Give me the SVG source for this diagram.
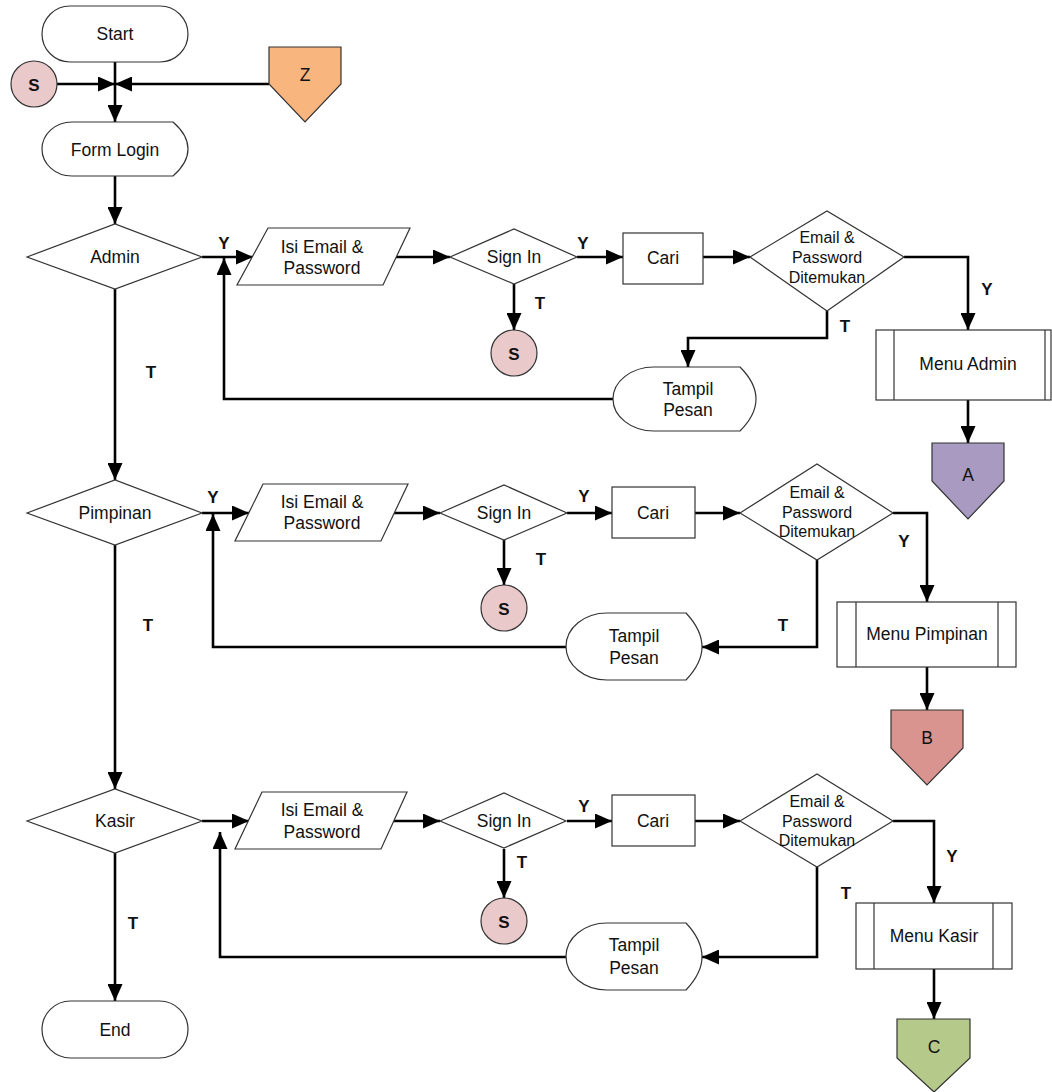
<svg xmlns="http://www.w3.org/2000/svg" width="1052" height="1092" viewBox="0 0 1052 1092">
<style>
.sh{fill:#fff;stroke:#333;stroke-width:1.2}
.t{font-family:"Liberation Sans",Arial,sans-serif;font-size:17.5px;fill:#111;text-anchor:middle;dominant-baseline:central}
.ts{font-family:"Liberation Sans",Arial,sans-serif;font-size:16px;fill:#111;text-anchor:middle;dominant-baseline:central}
.lb{font-family:"Liberation Sans",Arial,sans-serif;font-size:17px;font-weight:bold;fill:#111;text-anchor:middle;dominant-baseline:central}
.c{fill:none;stroke:#000;stroke-width:2.6;marker-end:url(#ah)}
.cn{fill:none;stroke:#000;stroke-width:2.6}
</style>
<defs>
<marker id="ah" markerWidth="17" markerHeight="15" refX="17" refY="7.5" orient="auto" markerUnits="userSpaceOnUse">
<path d="M0,0 L17,7.5 L0,15 z" fill="#000"/>
</marker>
</defs>
<rect width="1052" height="1092" fill="#fff"/>

<g id="connectors">
<path class="c" d="M115,62 V122"/>
<path class="c" d="M57,84 H115"/>
<path class="c" d="M269,84 H115"/>
<path class="c" d="M115,176 V224"/>
<path class="c" d="M202,257 H253"/>
<path class="c" d="M396,257 H450"/>
<path class="c" d="M577,257 H623"/>
<path class="c" d="M703,257 H750"/>
<path class="c" d="M904,257 H968 V330"/>
<path class="c" d="M827,311 V338 H688 V367"/>
<path class="c" d="M514,284 V330"/>
<path class="c" d="M613,399 H224 V258"/>
<path class="c" d="M968,400 V443"/>
<path class="c" d="M115,289 V480"/>

<path class="c" d="M202,513 H249"/>
<path class="c" d="M394,513 H440"/>
<path class="c" d="M567,513 H612"/>
<path class="c" d="M695,513 H740"/>
<path class="c" d="M893,513 H927 V602"/>
<path class="c" d="M817,560 V647 H702"/>
<path class="c" d="M504,540 V585"/>
<path class="c" d="M566,647 H213 V514"/>
<path class="c" d="M927,667 V710"/>
<path class="c" d="M115,545 V789"/>

<path class="c" d="M202,821 H249"/>
<path class="c" d="M394,821 H440"/>
<path class="c" d="M567,821 H612"/>
<path class="c" d="M695,821 H740"/>
<path class="c" d="M893,821 H934 V903"/>
<path class="c" d="M817,867 V957 H702"/>
<path class="c" d="M504,849 V898"/>
<path class="c" d="M566,957 H220 V832"/>
<path class="c" d="M934,969 V1019"/>
<path class="c" d="M115,853 V1001"/>
</g>

<g id="labels">
<text class="lb" x="224" y="243">Y</text>
<text class="lb" x="583" y="243">Y</text>
<text class="lb" x="540" y="303">T</text>
<text class="lb" x="845" y="326">T</text>
<text class="lb" x="987" y="289">Y</text>
<text class="lb" x="151" y="372">T</text>

<text class="lb" x="213" y="497">Y</text>
<text class="lb" x="584" y="496">Y</text>
<text class="lb" x="541" y="559">T</text>
<text class="lb" x="904" y="541">Y</text>
<text class="lb" x="783" y="625">T</text>
<text class="lb" x="148" y="625">T</text>

<text class="lb" x="584" y="806">Y</text>
<text class="lb" x="522" y="862">T</text>
<text class="lb" x="952" y="856">Y</text>
<text class="lb" x="846" y="893">T</text>
<text class="lb" x="133" y="923">T</text>
</g>

<g id="start"><rect class="sh" x="42" y="6" width="146" height="56" rx="28"/><text class="t" x="115" y="34">Start</text></g>
<g id="s-top"><circle class="sh" cx="34" cy="84" r="23" fill="#e9c9c9" style="fill:#e9c9c9"/><text class="lb" x="34" y="85">S</text></g>
<g id="z"><path class="sh" style="fill:#f8b57e" d="M269,47 H341 V84 L305,122 L269,84 Z"/><text class="t" x="305" y="75">Z</text></g>
<g id="form-login"><path class="sh" d="M72,122 H173 Q188,135 188,149 Q188,163 173,176 H72 A30,27 0 0 1 72,122 Z"/><text class="t" x="115" y="150">Form Login</text></g>

<g id="admin"><path class="sh" d="M27,257 L115,224 L202,257 L115,289 Z"/><text class="t" x="115" y="257">Admin</text></g>
<g id="isi1"><path class="sh" d="M268,228 H410 L383,285 H237 Z"/><text class="t" x="322" y="247">Isi Email &amp;</text><text class="t" x="322" y="268">Password</text></g>
<g id="signin1"><path class="sh" d="M450,257 L514,229 L577,257 L514,284 Z"/><text class="t" x="514" y="257">Sign In</text></g>
<g id="cari1"><rect class="sh" x="623" y="233" width="80" height="51"/><text class="t" x="663" y="258">Cari</text></g>
<g id="found1"><path class="sh" d="M750,257 L827,211 L904,257 L827,311 Z"/><text class="ts" x="827" y="237">Email &amp;</text><text class="ts" x="827" y="257">Password</text><text class="ts" x="827" y="277">Ditemukan</text></g>
<g id="s1"><circle class="sh" style="fill:#e9c9c9" cx="514" cy="353" r="23"/><text class="lb" x="514" y="354">S</text></g>
<g id="pesan1"><path class="sh" d="M654,367 H740 Q756,383 756,399 Q756,415 740,431 H654 A41,32 0 0 1 654,367 Z"/><text class="t" x="688" y="389">Tampil</text><text class="t" x="688" y="410">Pesan</text></g>
<g id="menu-admin"><rect class="sh" x="876" y="330" width="175" height="70"/><line class="sh" x1="894" y1="330" x2="894" y2="400"/><line class="sh" x1="1045" y1="330" x2="1045" y2="400"/><text class="t" x="968" y="364">Menu Admin</text></g>
<g id="a"><path class="sh" style="fill:#a99ac1" d="M932,443 H1004 V481 L968,519 L932,481 Z"/><text class="t" x="968" y="475">A</text></g>

<g id="pimpinan"><path class="sh" d="M27,513 L115,480 L202,513 L115,545 Z"/><text class="t" x="115" y="513">Pimpinan</text></g>
<g id="isi2"><path class="sh" d="M263,484 H408 L381,541 H235 Z"/><text class="t" x="322" y="502">Isi Email &amp;</text><text class="t" x="322" y="523">Password</text></g>
<g id="signin2"><path class="sh" d="M440,513 L504,485 L567,513 L504,540 Z"/><text class="t" x="504" y="513">Sign In</text></g>
<g id="cari2"><rect class="sh" x="612" y="487" width="83" height="51"/><text class="t" x="653" y="513">Cari</text></g>
<g id="found2"><path class="sh" d="M740,513 L817,464 L893,513 L817,560 Z"/><text class="ts" x="817" y="492">Email &amp;</text><text class="ts" x="817" y="512">Password</text><text class="ts" x="817" y="531">Ditemukan</text></g>
<g id="s2"><circle class="sh" style="fill:#e9c9c9" cx="504" cy="608" r="23"/><text class="lb" x="504" y="609">S</text></g>
<g id="pesan2"><path class="sh" d="M607,613 H686 Q702,630 702,647 Q702,663 686,680 H607 A41,33.5 0 0 1 607,613 Z"/><text class="t" x="634" y="636">Tampil</text><text class="t" x="634" y="658">Pesan</text></g>
<g id="menu-pimpinan"><rect class="sh" x="837" y="602" width="179" height="65"/><line class="sh" x1="856" y1="602" x2="856" y2="667"/><line class="sh" x1="998" y1="602" x2="998" y2="667"/><text class="t" x="927" y="634">Menu Pimpinan</text></g>
<g id="b"><path class="sh" style="fill:#d9948f" d="M891,710 H963 V748 L927,785 L891,748 Z"/><text class="t" x="927" y="738">B</text></g>

<g id="kasir"><path class="sh" d="M27,821 L115,789 L202,821 L115,853 Z"/><text class="t" x="115" y="821">Kasir</text></g>
<g id="isi3"><path class="sh" d="M262,792 H407 L381,849 H235 Z"/><text class="t" x="322" y="810">Isi Email &amp;</text><text class="t" x="322" y="832">Password</text></g>
<g id="signin3"><path class="sh" d="M440,821 L504,793 L566,821 L504,848 Z"/><text class="t" x="504" y="821">Sign In</text></g>
<g id="cari3"><rect class="sh" x="612" y="795" width="83" height="51"/><text class="t" x="653" y="821">Cari</text></g>
<g id="found3"><path class="sh" d="M740,821 L817,774 L893,821 L817,867 Z"/><text class="ts" x="817" y="801">Email &amp;</text><text class="ts" x="817" y="821">Password</text><text class="ts" x="817" y="840">Ditemukan</text></g>
<g id="s3"><circle class="sh" style="fill:#e9c9c9" cx="504" cy="921" r="23"/><text class="lb" x="504" y="922">S</text></g>
<g id="pesan3"><path class="sh" d="M607,923 H686 Q702,940 702,957 Q702,973 686,990 H607 A41,33.5 0 0 1 607,923 Z"/><text class="t" x="634" y="945">Tampil</text><text class="t" x="634" y="968">Pesan</text></g>
<g id="menu-kasir"><rect class="sh" x="856" y="903" width="156" height="66"/><line class="sh" x1="874" y1="903" x2="874" y2="969"/><line class="sh" x1="993" y1="903" x2="993" y2="969"/><text class="t" x="934" y="936">Menu Kasir</text></g>
<g id="c"><path class="sh" style="fill:#b4c98a" d="M897,1019 H970 V1058 L934,1092 L897,1058 Z"/><text class="t" x="934" y="1047">C</text></g>

<g id="end"><rect class="sh" x="42" y="1001" width="146" height="57" rx="28.5"/><text class="t" x="115" y="1030">End</text></g>
</svg>
